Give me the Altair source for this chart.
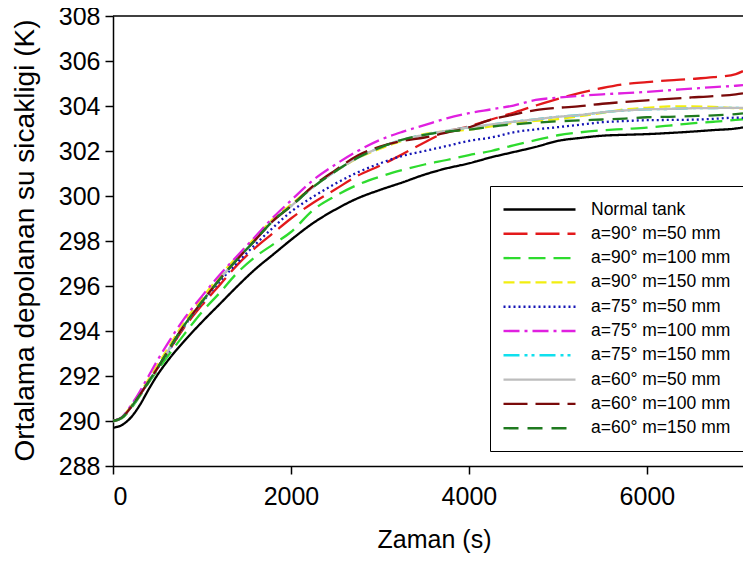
import altair as alt
import pandas as pd

t = [0, 100, 200, 300, 400, 500, 600, 800, 1000, 1200, 1400, 1600, 1800, 2000,
     2250, 2500, 2750, 3000, 3250, 3500, 3750, 4000, 4250, 4500, 4750, 5000,
     5250, 5500, 5750, 6000, 6250, 6500, 6750, 7000, 7080]

names = ["Normal tank", "a=90° m=50 mm", "a=90° m=100 mm", "a=90° m=150 mm",
         "a=75° m=50 mm", "a=75° m=100 mm", "a=75° m=150 mm",
         "a=60° m=50 mm", "a=60° m=100 mm", "a=60° m=150 mm"]

normal = [289.70, 289.82, 290.15, 290.70, 291.40, 292.05, 292.60, 293.55, 294.40, 295.20,
          296.00, 296.75, 297.40, 298.05, 298.80, 299.40, 299.90, 300.27, 300.60, 300.95,
          301.23, 301.45, 301.72, 301.95, 302.18, 302.45, 302.58, 302.68, 302.72, 302.75,
          302.80, 302.86, 302.93, 303.00, 303.05]
a90_m50 = [290.00, 290.15, 290.60, 291.15, 291.75, 292.35, 292.95, 294.15, 295.15, 296.05,
           296.95, 297.70, 298.35, 299.00, 299.70, 300.30, 300.90, 301.35, 301.85, 302.38,
           302.85, 303.10, 303.40, 303.70, 304.02, 304.32, 304.58, 304.80, 304.97, 305.06,
           305.14, 305.20, 305.28, 305.42, 305.55]
a90_m100 = [290.00, 290.12, 290.55, 291.10, 291.70, 292.25, 292.80, 293.85, 294.85, 295.70,
            296.60, 297.30, 297.85, 298.40, 299.38, 300.00, 300.50, 300.86, 301.15, 301.40,
            301.60, 301.82, 302.00, 302.25, 302.48, 302.70, 302.83, 302.92, 302.98, 303.04,
            303.13, 303.23, 303.30, 303.38, 303.41]
a90_m150 = [290.00, 290.16, 290.65, 291.22, 291.85, 292.48, 293.12, 294.38, 295.45, 296.45,
            297.32, 298.15, 298.98, 299.62, 300.42, 301.10, 301.68, 302.10, 302.45, 302.75,
            302.88, 302.95, 303.10, 303.25, 303.34, 303.42, 303.55, 303.70, 303.85, 303.92,
            303.98, 303.98, 303.96, 303.90, 303.88]
a75_m50 = [290.00, 290.15, 290.60, 291.15, 291.75, 292.35, 292.95, 294.20, 295.25, 296.20,
           297.05, 297.85, 298.60, 299.30, 299.97, 300.55, 301.05, 301.45, 301.78, 302.00,
           302.22, 302.45, 302.60, 302.83, 302.96, 303.06, 303.17, 303.28, 303.33, 303.37,
           303.38, 303.39, 303.43, 303.48, 303.47]
a75_m100 = [290.00, 290.17, 290.68, 291.30, 292.00, 292.70, 293.35, 294.55, 295.55, 296.50,
            297.35, 298.20, 299.05, 299.80, 300.71, 301.40, 302.00, 302.49, 302.85, 303.15,
            303.45, 303.68, 303.85, 304.02, 304.27, 304.37, 304.45, 304.52, 304.57, 304.63,
            304.70, 304.77, 304.84, 304.90, 304.93]
a75_m150 = [290.00, 290.15, 290.60, 291.15, 291.75, 292.35, 293.00, 294.25, 295.30, 296.30,
            297.20, 298.05, 298.90, 299.55, 300.40, 301.10, 301.70, 302.15, 302.50, 302.72,
            302.90, 303.05, 303.18, 303.30, 303.41, 303.52, 303.60, 303.72, 303.80, 303.85,
            303.87, 303.90, 303.91, 303.92, 303.92]
a60_m50 = [290.00, 290.15, 290.60, 291.15, 291.75, 292.35, 293.00, 294.25, 295.30, 296.30,
           297.20, 298.05, 298.90, 299.55, 300.40, 301.10, 301.70, 302.15, 302.50, 302.72,
           302.90, 303.05, 303.18, 303.30, 303.41, 303.52, 303.60, 303.72, 303.80, 303.85,
           303.87, 303.90, 303.91, 303.92, 303.92]
a60_m100 = [290.00, 290.15, 290.60, 291.15, 291.75, 292.35, 293.00, 294.25, 295.30, 296.30,
            297.20, 298.05, 298.90, 299.55, 300.45, 301.15, 301.80, 302.20, 302.45, 302.60,
            302.82, 303.05, 303.40, 303.62, 303.82, 303.92, 303.99, 304.10, 304.18, 304.25,
            304.32, 304.38, 304.44, 304.52, 304.56]
a60_m150 = [290.00, 290.15, 290.60, 291.15, 291.75, 292.35, 293.00, 294.25, 295.30, 296.30,
            297.20, 298.05, 298.90, 299.55, 300.40, 301.10, 301.70, 302.15, 302.50, 302.72,
            302.86, 302.95, 303.08, 303.18, 303.26, 303.32, 303.36, 303.40, 303.44, 303.50,
            303.52, 303.55, 303.58, 303.64, 303.67]

series = [normal, a90_m50, a90_m100, a90_m150, a75_m50, a75_m100, a75_m150,
          a60_m50, a60_m100, a60_m150]

colors = ["#000000", "#E3191B", "#2EDB2E", "#F2EE10", "#1515B5", "#E020E0",
          "#10E0EE", "#BDBDBD", "#7A0A0A", "#1F7A1F"]
dashes = [[1, 0], [24, 8], [17, 8], [11, 5], [2, 3], [16, 5, 3, 5],
          [16, 5, 3, 4, 3, 5], [1, 0], [24, 8], [15, 9]]

rows = []
for i, (n, vals) in enumerate(zip(names, series)):
    for tt, v in zip(t, vals):
        rows.append({"Zaman": tt, "T": v, "Seri": n, "ord": i})
df = pd.DataFrame(rows)

FONT = "Liberation Sans"

leg = alt.Legend(title=None, orient="none", legendX=377, legendY=170)

lines = alt.Chart(df).mark_line(strokeWidth=2.3, interpolate="monotone", clip=True).encode(
    x=alt.X("Zaman:Q", scale=alt.Scale(domain=[0, 7080], nice=False),
            axis=alt.Axis(values=[0, 2000, 4000, 6000], format="d", title="Zaman (s)",
                          titleY=73, titleBaseline="middle", titleX=321)),
    y=alt.Y("T:Q", scale=alt.Scale(domain=[288, 308], nice=False),
            axis=alt.Axis(values=list(range(288, 309, 2)),
                          title="Ortalama depolanan su sicakligi (K)",
                          titleX=-88, titleY=224, titleAngle=-90,
                          titleAlign="center", titleBaseline="middle")),
    color=alt.Color("Seri:N", scale=alt.Scale(domain=names, range=colors), legend=leg),
    strokeDash=alt.StrokeDash("Seri:N", scale=alt.Scale(domain=names, range=dashes), legend=leg),
    detail="ord:O",
)

top = alt.Chart(pd.DataFrame({"y": [308]})).mark_rule(color="black", strokeWidth=1.5).encode(
    y=alt.Y("y:Q")
)

chart = alt.layer(lines, top).properties(
    width=630, height=450,
    autosize=alt.AutoSizeParams(type="none"),
    padding={"left": 105, "top": 8, "right": 0, "bottom": 88},
).configure_view(stroke=None).configure_axis(
    labelFont=FONT, titleFont=FONT, labelFontSize=25,
    labelColor="black", titleColor="black", titleFontWeight="normal",
    domainColor="black", tickColor="black", domainWidth=1.5, tickWidth=1.5,
    tickSize=8, grid=False,
).configure_axisY(labelPadding=5, titleFontSize=28).configure_axisX(
    labelPadding=10, titleFontSize=25
).configure_legend(
    symbolType="M-1.25,0L7.75,0", symbolSize=256, symbolStrokeWidth=2.4,
    labelFont=FONT, labelFontSize=17.5, labelColor="black", labelOffset=68,
    strokeColor="black", fillColor="white", padding=14, rowPadding=6.3,
    labelLimit=300,
)

chart.save("out.html", embed_options={"renderer": "svg", "actions": False})
